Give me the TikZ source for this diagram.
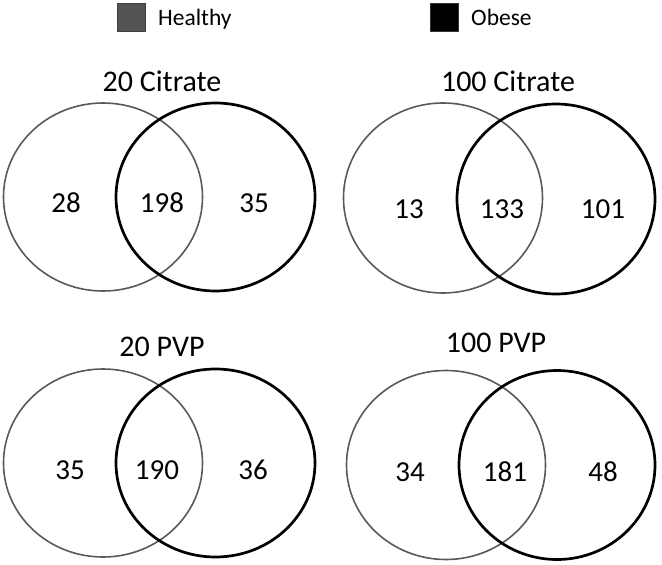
\documentclass[tikz,border=0pt]{standalone}
\usepackage{fontspec}
\setmainfont{Carlito}
\begin{document}
\begin{tikzpicture}[x=1pt,y=-1pt,
  healthy/.style={draw=black!65, line width=1.6pt},
  obese/.style={draw=black, line width=2.7pt},
  title/.style={font=\fontsize{30}{30}\selectfont, inner sep=0pt},
  num/.style={font=\fontsize{29}{29}\selectfont, inner sep=0pt},
  legtext/.style={font=\fontsize{23.5}{24}\selectfont, inner sep=0pt, anchor=base west},
  legbox/.style={minimum width=28pt, minimum height=28pt, inner sep=0pt, line width=1pt}]
\useasboundingbox (0,0) rectangle (662,565);
% legend
\node[legbox, fill=black!67, draw=black!75] (lh) at (131,17) {};
\node[legtext] (th) at (158,25) {Healthy};
\node[legbox, fill=black, draw=black!80] (lo) at (444,17) {};
\node[legtext] (to) at (471,25) {Obese};
% panel 1
\node[title] (t1) at (162,81) {20 Citrate};
\draw[healthy] (103,197) ellipse [x radius=99.5, y radius=94];
\draw[obese] (215.5,197) ellipse [x radius=99.5, y radius=94];
\node[num] (a1) at (66,203) {28};
\node[num] (b1) at (162,203) {198};
\node[num] (c1) at (254,203) {35};
% panel 2
\node[title] (t2) at (508,81) {100 Citrate};
\draw[healthy] (443,198) ellipse [x radius=99.5, y radius=95];
\draw[obese] (556,199) ellipse [x radius=99, y radius=95];
\node[num] (a2) at (409,209) {13};
\node[num] (b2) at (502,209) {133};
\node[num] (c2) at (603,209) {101};
% panel 3
\node[title] (t3) at (162,347) {20 PVP};
\draw[healthy] (103,463) ellipse [x radius=99.5, y radius=94];
\draw[obese] (215.5,463) ellipse [x radius=99.5, y radius=94];
\node[num] (a3) at (70,470) {35};
\node[num] (b3) at (157,470) {190};
\node[num] (c3) at (253,470) {36};
% panel 4
\node[title] (t4) at (496,343) {100 PVP};
\draw[healthy] (446,465) ellipse [x radius=99.5, y radius=94.5];
\draw[obese] (557,465) ellipse [x radius=98, y radius=94.5];
\node[num] (a4) at (410,472) {34};
\node[num] (b4) at (505,472) {181};
\node[num] (c4) at (603,472) {48};
\end{tikzpicture}
\end{document}
